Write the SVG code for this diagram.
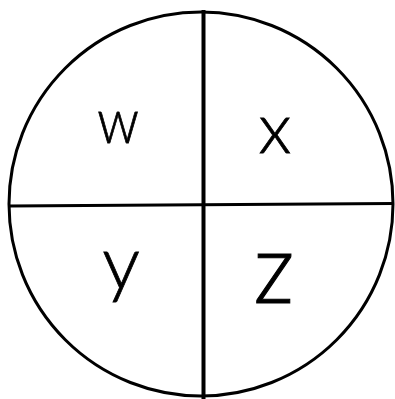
<svg xmlns="http://www.w3.org/2000/svg" width="395" height="399" viewBox="0 0 395 399">
<style>
.ln{stroke:#000;fill:none;stroke-linecap:butt}
.lbl{font-family:Lato,"Liberation Sans",sans-serif;font-weight:300;fill:#000;stroke:#000;stroke-width:0.8;text-anchor:middle}
</style>
<rect width="395" height="399" fill="#fff"/>
<g id="circle"><circle class="ln" cx="201" cy="204" r="192" stroke-width="3"/></g>
<g id="dividers">
<line class="ln" x1="203.5" y1="10" x2="203.5" y2="399" stroke-width="4"/>
<line class="ln" x1="9" y1="206" x2="393" y2="203.5" stroke-width="3"/>
</g>
<g id="w"><text class="lbl" transform="translate(118,143) scale(0.85,1)" font-size="64">w</text></g>
<g id="x"><text class="lbl" x="275" y="153" font-size="70">x</text></g>
<g id="y"><text class="lbl" x="121" y="289" font-size="75">y</text></g>
<g id="z"><text class="lbl" transform="translate(274,303) scale(1.3,1.4)" font-size="70">z</text></g>
</svg>
